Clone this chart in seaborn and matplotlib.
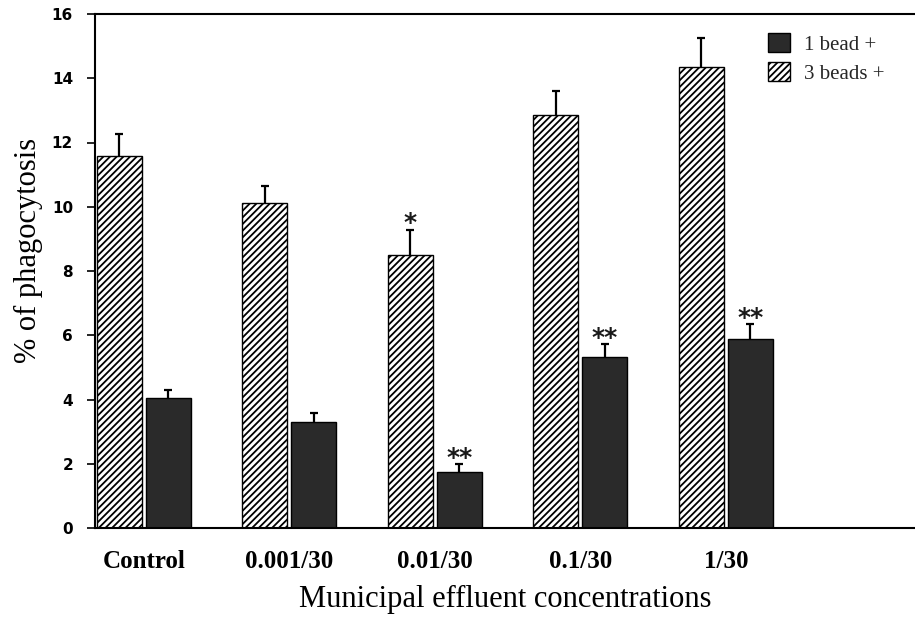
import numpy as np
import pandas as pd
import matplotlib
matplotlib.use("Agg")
import matplotlib.pyplot as plt
import seaborn as sns
from matplotlib.patches import Patch

categories = ["Control", "0.001/30", "0.01/30", "0.1/30", "1/30"]
series_names = ["3 beads +", "1 bead +"]
beads3_mean = [11.58, 10.12, 8.50, 12.87, 14.34]
beads3_err = [0.68, 0.52, 0.79, 0.73, 0.91]
bead1_mean = [4.04, 3.30, 1.74, 5.31, 5.87]
bead1_err = [0.27, 0.28, 0.25, 0.41, 0.47]
beads3_sig = ["", "", "*", "", ""]
bead1_sig = ["", "", "**", "**", "**"]
y_ticks = [0, 2, 4, 6, 8, 10, 12, 14, 16]
legend_labels = ["1 bead +", "3 beads +"]
x_label = "Municipal effluent concentrations"
y_label = "% of phagocytosis"

sns.set_theme(style="ticks")
plt.rcParams['font.family'] = ['Liberation Serif', 'DejaVu Sans']
plt.rcParams['hatch.linewidth'] = 1.3
plt.rcParams['hatch.color'] = 'black'

SOLID = "#2a2a2a"
HATCH = "/////"

df = pd.DataFrame({
    "category": categories * 2,
    "series": [series_names[0]] * len(categories) + [series_names[1]] * len(categories),
    "value": beads3_mean + bead1_mean,
})

fig = plt.figure(figsize=(9.15, 6.24), dpi=100)
ax = fig.add_axes([95 / 915, 96 / 624, 820 / 915, 514 / 624])

sns.barplot(data=df, x="category", y="value", hue="series", order=categories,
            hue_order=series_names, palette=["white", SOLID], width=0.674, gap=0.082,
            errorbar=None, edgecolor="black", linewidth=1.0, ax=ax, legend=False)

for p in ax.containers[0].patches:
    p.set_hatch(HATCH)
    p.set_facecolor("white")
for p in ax.containers[1].patches:
    p.set_facecolor(SOLID)

for cont, errs, sigs in zip(ax.containers, [beads3_err, bead1_err], [beads3_sig, bead1_sig]):
    xs = [p.get_x() + p.get_width() / 2 for p in cont.patches]
    ys = [p.get_height() for p in cont.patches]
    eb = ax.errorbar(xs, ys, yerr=[np.zeros(len(errs)), errs], fmt='none', ecolor='black',
                     elinewidth=1.6, capsize=2.9, capthick=1.6, zorder=3)
    caplines = eb.lines[1]
    if len(caplines) > 0:
        caplines[0].set_visible(False)
    for x, y, e, s in zip(xs, ys, errs, sigs):
        if s:
            ax.text(x, y + e - 0.02, s, ha='center', va='baseline', fontsize=18,
                    fontweight='bold', family=['DejaVu Sans'], color='#1a1a1a')

handles = [Patch(facecolor=SOLID, edgecolor="black"),
           Patch(facecolor="white", edgecolor="black", hatch=HATCH)]
ax.legend(handles, legend_labels, loc="upper left", bbox_to_anchor=(0.8205, 0.963),
          frameon=False, fontsize=15, handlelength=1.05, handleheight=1.05,
          handletextpad=0.7, labelspacing=0.35, borderpad=0, borderaxespad=0)

ax.set_xlim(-0.335, 5.30)
ax.set_ylim(0, 16)
ax.set_yticks(y_ticks)
ax.set_yticklabels([str(t) for t in y_ticks], fontfamily='DejaVu Sans', fontweight='bold', fontsize=11)
ax.tick_params(axis='y', length=5.8, width=1.2, pad=10, direction='out', color='black', labelcolor='black')
ax.tick_params(axis='x', length=0, pad=16, labelcolor='black')
for lab in ax.get_xticklabels():
    lab.set_fontsize(18)
    lab.set_fontweight('bold')
ax.spines['right'].set_visible(False)
for s in ['left', 'bottom', 'top']:
    ax.spines[s].set_linewidth(1.5)
    ax.spines[s].set_color('black')
ax.set_xlabel(x_label, fontsize=22, color='black')
ax.xaxis.set_label_coords(0.5, -0.110)
ax.set_ylabel(y_label, fontsize=22, color='black')
ax.yaxis.set_label_coords(-0.0635, 0.54)

fig.savefig("out.png", dpi=100)
